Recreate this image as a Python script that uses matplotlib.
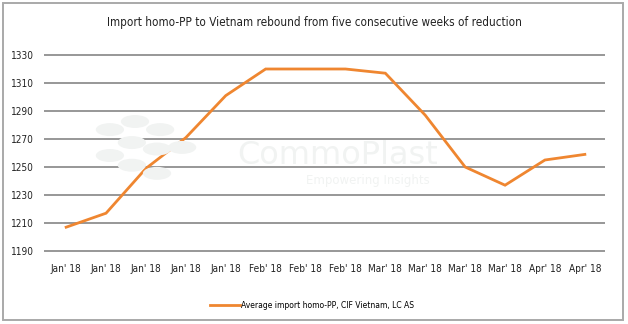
import matplotlib
matplotlib.use('Agg')
from matplotlib import pyplot as plt
from matplotlib.patches import Rectangle, Ellipse

plt.rcParams['font.family'] = ['DejaVu Sans']
plt.rcParams['font.stretch'] = 'condensed'

# data
week_labels = ["Jan' 18", "Jan' 18", "Jan' 18", "Jan' 18", "Jan' 18",
               "Feb' 18", "Feb' 18", "Feb' 18",
               "Mar' 18", "Mar' 18", "Mar' 18", "Mar' 18",
               "Apr' 18", "Apr' 18"]
price = [1207, 1217, 1249, 1271, 1301, 1320, 1320, 1320, 1317, 1287, 1250, 1237, 1255, 1259]
y_ticks = [1190, 1210, 1230, 1250, 1270, 1290, 1310, 1330]

title = "Import homo-PP to Vietnam rebound from five consecutive weeks of reduction"
series_name = "Average import homo-PP, CIF Vietnam, LC AS"

fig = plt.figure(figsize=(6.28, 3.24), dpi=100)
# 196 px tall so the grid spacing is a whole 28 px
ax = fig.add_axes([45/628, 73/324, 559/628, 196/324])

# outer frame
fig.patches.append(Rectangle((3/628, 4/324), 620/628, 317/324, transform=fig.transFigure,
                             fill=False, edgecolor='#a9a9a9', linewidth=1.4))

# faint watermark
wm = '#f1f3f2'
for (cx, cy) in [(0.175, 0.60), (0.215, 0.625), (0.255, 0.60), (0.21, 0.56),
                 (0.25, 0.54), (0.175, 0.52), (0.21, 0.49), (0.25, 0.465), (0.29, 0.545)]:
    fig.patches.append(Ellipse((cx, cy), 0.045, 0.04, transform=fig.transFigure,
                               facecolor=wm, edgecolor='none', zorder=0))
fig.text(0.378, 0.494, 'CommoPlast', fontsize=23, color=wm, stretch='normal',
         ha='left', va='baseline', zorder=0)
fig.text(0.487, 0.462, 'Empowering Insights', fontsize=8.5, color=wm, stretch='normal',
         ha='left', va='top', zorder=0)

x = list(range(len(price)))
line, = ax.plot(x, price, color='#ef8630', linewidth=2, solid_joinstyle='miter',
                label=series_name, zorder=3)

ax.set_xlim(-0.53, 13.48)
ax.set_ylim(1190, 1330)
ax.set_yticks(y_ticks)
ax.set_xticks(x)
ax.set_xticklabels(week_labels)
ax.grid(axis='y', color='#999999', linewidth=1.44)
for gl in ax.yaxis.get_gridlines():
    gl.set_clip_on(False)  # keep top/bottom lines full width
ax.set_axisbelow(True)
ax.patch.set_alpha(0)
for s in ax.spines.values():
    s.set_visible(False)
ax.tick_params(axis='both', length=0, labelsize=7.2, colors='#222222')
ax.tick_params(axis='y', pad=8)
ax.tick_params(axis='x', pad=9)

fig.text(0.5, 0.932, title, ha='center', va='center', fontsize=8.4, color='#222222')

fig.legend(handles=[line], loc='center', bbox_to_anchor=(0.497, 0.056), frameon=False,
           fontsize=6.1, handlelength=3.5, handletextpad=0.1)

fig.savefig('out.png', dpi=100)
